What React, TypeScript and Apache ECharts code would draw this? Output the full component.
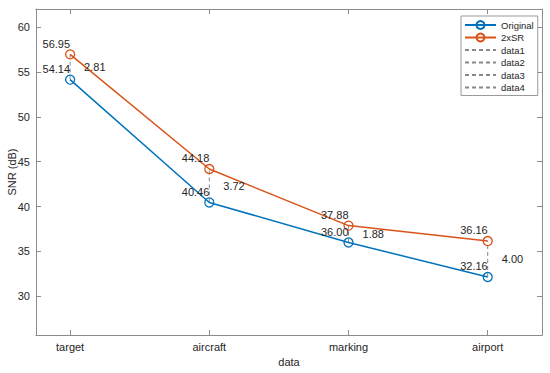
import React, { useEffect, useRef } from "react";
import * as echarts from "echarts";

const categories = ["target", "aircraft", "marking", "airport"];
const originalValues = [54.14, 40.46, 36.0, 32.16];
const srValues = [56.95, 44.18, 37.88, 36.16];
const yTicks = [30, 35, 40, 45, 50, 55, 60];
const xTicks = [1, 2, 3, 4];
const dashNames = ["data1", "data2", "data3", "data4"];

const FONT = "Liberation Sans, Arial, Helvetica, sans-serif";
const AXIS_COLOR = "#8c8c8c";
const TEXT_COLOR = "#262626";

export default function App() {
  const ref = useRef<HTMLDivElement>(null);
  useEffect(() => {
    document.body.style.margin = "0";
    if (!ref.current) return;
    const chart = echarts.init(ref.current, null, { renderer: "svg" });

    const xMin = 0.755;
    const xMax = 4.39;
    const yMin = 25.7;
    const yMax = 62;

    const valueLabel = {
      show: true,
      position: ["50%", 0],
      align: "right",
      verticalAlign: "bottom",
      color: TEXT_COLOR,
      fontSize: 11,
      fontFamily: FONT,
      formatter: (p: any) => p.value[1].toFixed(2),
    };

    const dashSeries = dashNames.map((name, i) => {
      const x = xTicks[i];
      const lo = originalValues[i];
      const hi = srValues[i];
      const diff = hi - lo;
      return {
        name,
        type: "line",
        symbol: "none",
        z: 1,
        lineStyle: { color: "#888888", width: 1, type: [4, 3] },
        itemStyle: { color: "#555" },
        data: [
          [x, lo],
          [x, hi],
        ],
        markPoint: {
          silent: true,
          symbol: "circle",
          symbolSize: 2,
          itemStyle: { color: "rgba(0,0,0,0)" },
          label: {
            show: true,
            position: "right",
            distance: 13,
            color: TEXT_COLOR,
            fontSize: 11,
            fontFamily: FONT,
            formatter: () => diff.toFixed(2),
          },
          data: [{ coord: [x, (lo + hi) / 2], value: diff }],
        },
      };
    });

    const mainSeries = (name: string, values: number[], color: string) => ({
      name,
      type: "line",
      z: 3,
      symbol: "circle",
      symbolSize: 9,
      showSymbol: true,
      lineStyle: { color, width: 1.5 },
      itemStyle: { color: "rgba(0,0,0,0)", borderColor: color, borderWidth: 1.3 },
      label: valueLabel,
      data: values.map((v, i) => [xTicks[i], v]),
    });

    const baseAxisLine = { show: true, lineStyle: { color: AXIS_COLOR, width: 1 } };

    chart.setOption({
      animation: false,
      grid: { left: 36, right: 8, top: 9, bottom: 38, containLabel: false, outerBoundsMode: "none" },
      xAxis: [
        {
          type: "value",
          min: xMin,
          max: xMax,
          name: "data",
          nameLocation: "middle",
          nameGap: 21,
          nameMoveOverlap: false,
          nameTextStyle: { color: TEXT_COLOR, fontSize: 11, fontFamily: FONT },
          axisLine: baseAxisLine,
          axisTick: { show: true, inside: true, length: 5, customValues: xTicks, lineStyle: { color: AXIS_COLOR } },
          axisLabel: {
            show: true,
            customValues: xTicks,
            margin: 6,
            color: TEXT_COLOR,
            fontSize: 11,
            fontFamily: FONT,
            formatter: (v: number) => categories[Math.round(v) - 1] ?? "",
          },
          splitLine: { show: false },
        },
        {
          type: "value",
          position: "top",
          min: xMin,
          max: xMax,
          axisLine: baseAxisLine,
          axisTick: { show: true, inside: true, length: 5, customValues: xTicks, lineStyle: { color: AXIS_COLOR } },
          axisLabel: { show: false },
          splitLine: { show: false },
        },
      ],
      yAxis: [
        {
          type: "value",
          min: yMin,
          max: yMax,
          name: "SNR (dB)",
          nameLocation: "middle",
          nameGap: 19,
          nameMoveOverlap: false,
          nameTextStyle: { color: TEXT_COLOR, fontSize: 11, fontFamily: FONT },
          axisLine: baseAxisLine,
          axisTick: { show: true, inside: true, length: 5, customValues: yTicks, lineStyle: { color: AXIS_COLOR } },
          axisLabel: {
            show: true,
            customValues: yTicks,
            margin: 6,
            color: TEXT_COLOR,
            fontSize: 11,
            fontFamily: FONT,
          },
          splitLine: { show: false },
        },
        {
          type: "value",
          position: "right",
          min: yMin,
          max: yMax,
          axisLine: baseAxisLine,
          axisTick: { show: true, inside: true, length: 5, customValues: yTicks, lineStyle: { color: AXIS_COLOR } },
          axisLabel: { show: false },
          splitLine: { show: false },
        },
      ],
      legend: {
        left: 461,
        top: 16,
        orient: "vertical",
        padding: [4, 4, 3, 3],
        itemGap: 2.5,
        itemWidth: 31,
        itemHeight: 10,
        borderColor: "#999",
        borderWidth: 1,
        backgroundColor: "#fff",
        textStyle: { color: TEXT_COLOR, fontSize: 9.5, fontFamily: FONT },
        data: [
          "Original",
          "2xSR",
          ...dashNames.map((n) => ({ name: n, itemStyle: { opacity: 0 } })),
        ],
      },
      series: [
        mainSeries("Original", originalValues, "#0072BD"),
        mainSeries("2xSR", srValues, "#D95319"),
        ...dashSeries,
      ],
    });
    return () => chart.dispose();
  }, []);
  return <div ref={ref} style={{ width: 550, height: 373 }} />;
}
